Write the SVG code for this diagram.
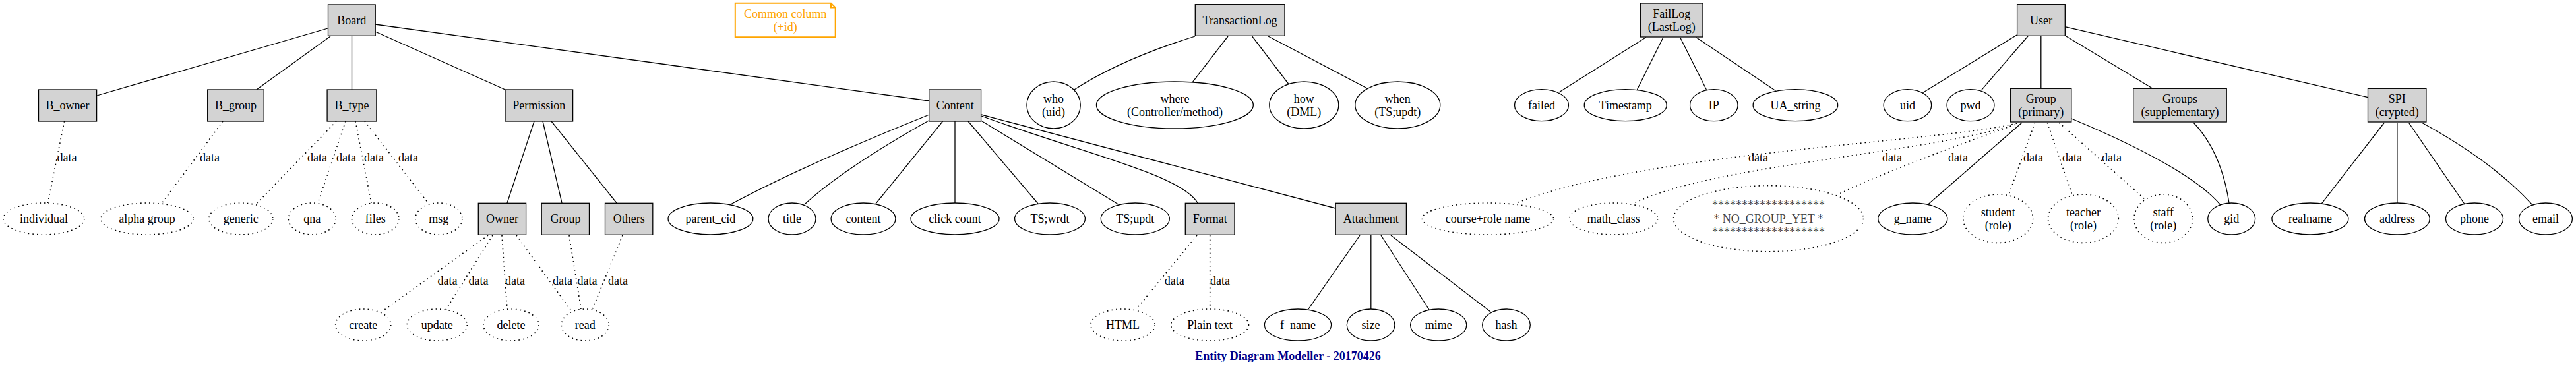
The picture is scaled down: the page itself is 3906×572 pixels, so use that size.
<svg xmlns="http://www.w3.org/2000/svg" width="3906" height="572" viewBox="0 0 3906 572">
<style>
text{font-family:"Liberation Serif","Times New Roman",serif;font-size:18px;fill:#000;text-anchor:middle}
.box{fill:#d3d3d3;stroke:#000;stroke-width:1.3}
.att{fill:#fff;stroke:#000;stroke-width:1.3}
.dat{fill:#fff;stroke:#000;stroke-width:1.6;stroke-dasharray:1.6,5}
.e{fill:none;stroke:#000;stroke-width:1.3}
.d{fill:none;stroke:#000;stroke-width:1.6;stroke-dasharray:1.6,5}
.lbl{text-anchor:start}
.gray{fill:#444}
.title{font-weight:bold;fill:#00008b}
</style>
<rect width="3906" height="572" fill="#fff"/>
<g id="connectors">
<path class="e" d="M497,43 L147,145"/>
<path class="e" d="M501,55 L389,136"/>
<path class="e" d="M533.5,54 L533.5,136"/>
<path class="e" d="M569,48 L766,136"/>
<path class="e" d="M569,37 L1409,153"/>
<path class="d" d="M97.6,184 L72.5,308"/>
<path class="d" d="M338,184 L245,309"/>
<path class="d" d="M510,184 L390,308"/>
<path class="d" d="M524,184 L482,308"/>
<path class="d" d="M539,184 L563,308"/>
<path class="d" d="M553,184 L650,309"/>
<path class="e" d="M810,184 L769,308"/>
<path class="e" d="M823,184 L852,308"/>
<path class="e" d="M836,184 L935,308"/>
<path class="d" d="M740,357 L583,470"/>
<path class="d" d="M747,357 L676,470"/>
<path class="d" d="M761,357 L769,469"/>
<path class="d" d="M783,357 L865,470"/>
<path class="d" d="M863,357 L881,469"/>
<path class="d" d="M944,357 L898,470"/>
<path class="e" d="M1409,174 Q1220,250 1108,310"/>
<path class="e" d="M1410,182 Q1280,255 1220,310"/>
<path class="e" d="M1429.5,184 L1328,309"/>
<path class="e" d="M1448,184 L1448,308"/>
<path class="e" d="M1468,184 L1574,309"/>
<path class="e" d="M1487.6,183 L1695.6,310"/>
<path class="e" d="M1488,176 C1650,235 1790,265 1816,308"/>
<path class="e" d="M1488,174 L2025,316"/>
<path class="d" d="M1815,357 L1723,469"/>
<path class="d" d="M1834.7,357 L1834.7,469"/>
<path class="e" d="M2062,357 L1984,469"/>
<path class="e" d="M2078.8,357 L2078.8,469"/>
<path class="e" d="M2094,357 L2167,470"/>
<path class="e" d="M2109,357 L2260,473"/>
<path class="e" d="M1812,55 Q1700,90 1629,136"/>
<path class="e" d="M1862,55 L1808.5,124.3"/>
<path class="e" d="M1898.6,55 L1955,129"/>
<path class="e" d="M1923,55 L2073.4,134.3"/>
<path class="e" d="M2496,56.5 L2364,140"/>
<path class="e" d="M2522,56.5 L2482.4,136"/>
<path class="e" d="M2547.5,56.5 L2587.4,136"/>
<path class="e" d="M2571.6,56.5 L2692.4,137.7"/>
<path class="e" d="M3058.6,52.7 L2915.4,140.7"/>
<path class="e" d="M3075.2,54.5 L3004.6,136.7"/>
<path class="e" d="M3094.8,54.5 L3094.8,134.3"/>
<path class="e" d="M3131.3,54 L3264,134.3"/>
<path class="e" d="M3131.3,40.7 L3590.5,147.7"/>
<path class="e" d="M3066,186 L2923.7,310"/>
<path class="e" d="M3141,180 Q3320,255 3367,311"/>
<path class="d" d="M3058,187 C2950,215 2500,230 2302,307"/>
<path class="d" d="M3049,191 C2900,235 2600,250 2478,308"/>
<path class="d" d="M3056,189 Q2870,255 2787,295"/>
<path class="d" d="M3085.6,186 L3046,295"/>
<path class="d" d="M3104.3,186 L3141.7,295"/>
<path class="d" d="M3122,186 L3252,302"/>
<path class="e" d="M3326,186 Q3368,230 3380,308"/>
<path class="e" d="M3615.4,186 L3520,309.3"/>
<path class="e" d="M3634.9,186 L3634.9,308"/>
<path class="e" d="M3652.3,186 L3736.6,309"/>
<path class="e" d="M3672,186 Q3780,245 3840,311"/>
<text class="lbl" x="86.4" y="245">data</text>
<text class="lbl" x="303" y="245">data</text>
<text class="lbl" x="466" y="245">data</text>
<text class="lbl" x="510" y="245">data</text>
<text class="lbl" x="552" y="245">data</text>
<text class="lbl" x="604" y="245">data</text>
<text class="lbl" x="663.5" y="431.7">data</text>
<text class="lbl" x="710.4" y="431.7">data</text>
<text class="lbl" x="766" y="431.7">data</text>
<text class="lbl" x="838" y="431.7">data</text>
<text class="lbl" x="875.6" y="431.7">data</text>
<text class="lbl" x="922" y="431.7">data</text>
<text class="lbl" x="1765.8" y="431.7">data</text>
<text class="lbl" x="1835" y="431.7">data</text>
<text class="lbl" x="2651" y="244.7">data</text>
<text class="lbl" x="2854" y="244.7">data</text>
<text class="lbl" x="2954" y="244.7">data</text>
<text class="lbl" x="3068" y="244.7">data</text>
<text class="lbl" x="3127" y="244.7">data</text>
<text class="lbl" x="3187" y="244.7">data</text>
</g>
<g id="Board"><rect class="box" x="497.5" y="7" width="71.7" height="47.3"/><text x="533.3" y="36.7">Board</text></g>
<g id="B_owner"><rect class="box" x="58.5" y="136" width="88.1" height="48"/><text x="102.5" y="166">B_owner</text></g>
<g id="B_group"><rect class="box" x="314.7" y="136" width="85.5" height="48"/><text x="357.5" y="166">B_group</text></g>
<g id="B_type"><rect class="box" x="496.1" y="136" width="74.8" height="48"/><text x="533.5" y="166">B_type</text></g>
<g id="Permission"><rect class="box" x="766" y="136" width="102.6" height="48"/><text x="817.3" y="166">Permission</text></g>
<g id="Content"><rect class="box" x="1408.7" y="136" width="78.9" height="48"/><text x="1448.2" y="166">Content</text></g>
<g id="Owner"><rect class="box" x="725.3" y="308.3" width="72.3" height="48"/><text x="761.5" y="338.3">Owner</text></g>
<g id="Group"><rect class="box" x="821.2" y="308.3" width="72.3" height="48"/><text x="857.4" y="338.3">Group</text></g>
<g id="Others"><rect class="box" x="917.5" y="308.3" width="72.3" height="48"/><text x="953.7" y="338.3">Others</text></g>
<g id="Format"><rect class="box" x="1797.3" y="308.3" width="74.7" height="48"/><text x="1834.7" y="338.3">Format</text></g>
<g id="Attachment"><rect class="box" x="2025.2" y="308.3" width="107.2" height="48"/><text x="2078.8" y="338.3">Attachment</text></g>
<g id="TransactionLog"><rect class="box" x="1812.3" y="6.7" width="135.7" height="47.6"/><text x="1880.2" y="36.7">TransactionLog</text></g>
<g id="FailLog"><rect class="box" x="2487.3" y="5" width="94.7" height="51"/><text x="2534.7" y="26.7">FailLog</text><text x="2534.7" y="47">(LastLog)</text></g>
<g id="User"><rect class="box" x="3058.6" y="6.7" width="72.7" height="47.6"/><text x="3095" y="36.7">User</text></g>
<g id="GroupPrimary"><rect class="box" x="3048.7" y="134.3" width="92.1" height="50.7"/><text x="3094.8" y="155.7">Group</text><text x="3094.8" y="176">(primary)</text></g>
<g id="GroupsSupplementary"><rect class="box" x="3234.7" y="134.3" width="141.5" height="50.7"/><text x="3305.5" y="155.7">Groups</text><text x="3305.5" y="176">(supplementary)</text></g>
<g id="SPI"><rect class="box" x="3590.5" y="134.3" width="88.4" height="50.7"/><text x="3634.7" y="155.7">SPI</text><text x="3634.7" y="176">(crypted)</text></g>
<g id="CommonColumn"><path d="M1114.8,4.7 L1260,4.7 L1266.7,11.4 L1266.7,56.3 L1114.8,56.3 Z M1260,4.7 L1260,11.4 L1266.7,11.4" fill="#fff" stroke="#ffa500" stroke-width="2"/><text x="1190.7" y="26.7" style="fill:#ffa500">Common column</text><text x="1190.7" y="47" style="fill:#ffa500">(+id)</text></g>
<g id="individual"><ellipse class="dat" cx="66.4" cy="332" rx="61.4" ry="24"/><text x="66.4" y="338">individual</text></g>
<g id="alphagroup"><ellipse class="dat" cx="223" cy="332" rx="70" ry="24"/><text x="223" y="338">alpha group</text></g>
<g id="generic"><ellipse class="dat" cx="365.3" cy="332" rx="48.5" ry="24"/><text x="365.3" y="338">generic</text></g>
<g id="qna"><ellipse class="dat" cx="473.3" cy="332" rx="36" ry="24"/><text x="473.3" y="338">qna</text></g>
<g id="files"><ellipse class="dat" cx="569.2" cy="332" rx="35.7" ry="24"/><text x="569.2" y="338">files</text></g>
<g id="msg"><ellipse class="dat" cx="665.3" cy="332" rx="35.5" ry="24"/><text x="665.3" y="338">msg</text></g>
<g id="create"><ellipse class="dat" cx="550.7" cy="493" rx="42" ry="24"/><text x="550.7" y="499">create</text></g>
<g id="update"><ellipse class="dat" cx="662.8" cy="493" rx="45.5" ry="24"/><text x="662.8" y="499">update</text></g>
<g id="delete"><ellipse class="dat" cx="775" cy="493" rx="42" ry="24"/><text x="775" y="499">delete</text></g>
<g id="read"><ellipse class="dat" cx="887.3" cy="493" rx="36" ry="24"/><text x="887.3" y="499">read</text></g>
<g id="HTML"><ellipse class="dat" cx="1702.6" cy="493" rx="48.6" ry="24"/><text x="1702.6" y="499">HTML</text></g>
<g id="PlainText"><ellipse class="dat" cx="1834.5" cy="493" rx="59" ry="24"/><text x="1834.5" y="499">Plain text</text></g>
<g id="courseRoleName"><ellipse class="dat" cx="2256" cy="332" rx="99.6" ry="24"/><text x="2256" y="338">course+role name</text></g>
<g id="math_class"><ellipse class="dat" cx="2446.7" cy="332" rx="66.8" ry="24"/><text x="2446.7" y="338">math_class</text></g>
<g id="NO_GROUP_YET"><ellipse class="dat" cx="2681.5" cy="331.7" rx="143.9" ry="50"/><text class="gray" x="2681.5" y="317.3">*******************</text><text class="gray" x="2681.5" y="337.7">* NO_GROUP_YET *</text><text class="gray" x="2681.5" y="358">*******************</text></g>
<g id="student"><ellipse class="dat" cx="3029.7" cy="331.7" rx="53" ry="36.7"/><text x="3029.7" y="327.7">student</text><text x="3029.7" y="347.7">(role)</text></g>
<g id="teacher"><ellipse class="dat" cx="3158.9" cy="331.7" rx="53.4" ry="36.7"/><text x="3158.9" y="327.7">teacher</text><text x="3158.9" y="347.7">(role)</text></g>
<g id="staff"><ellipse class="dat" cx="3280.3" cy="331.7" rx="44.4" ry="36.7"/><text x="3280.3" y="327.7">staff</text><text x="3280.3" y="347.7">(role)</text></g>
<g id="parent_cid"><ellipse class="att" cx="1077.4" cy="332" rx="64.4" ry="24"/><text x="1077.4" y="338">parent_cid</text></g>
<g id="title"><ellipse class="att" cx="1201" cy="332" rx="36" ry="24"/><text x="1201" y="338">title</text></g>
<g id="content"><ellipse class="att" cx="1309" cy="332" rx="49" ry="24"/><text x="1309" y="338">content</text></g>
<g id="clickcount"><ellipse class="att" cx="1448" cy="332" rx="67" ry="24"/><text x="1448" y="338">click count</text></g>
<g id="TSwrdt"><ellipse class="att" cx="1592" cy="332" rx="53.4" ry="24"/><text x="1592" y="338">TS;wrdt</text></g>
<g id="TSupdt"><ellipse class="att" cx="1721.3" cy="332" rx="52" ry="24"/><text x="1721.3" y="338">TS;updt</text></g>
<g id="f_name"><ellipse class="att" cx="1968" cy="493" rx="50.6" ry="24"/><text x="1968" y="499">f_name</text></g>
<g id="size"><ellipse class="att" cx="2078.6" cy="493" rx="36.3" ry="24"/><text x="2078.6" y="499">size</text></g>
<g id="mime"><ellipse class="att" cx="2181.2" cy="493" rx="42.6" ry="24"/><text x="2181.2" y="499">mime</text></g>
<g id="hash"><ellipse class="att" cx="2284" cy="493" rx="36.3" ry="24"/><text x="2284" y="499">hash</text></g>
<g id="who"><ellipse class="att" cx="1597.6" cy="159.5" rx="40.7" ry="35.5"/><text x="1597.6" y="155.7">who</text><text x="1597.6" y="176">(uid)</text></g>
<g id="where"><ellipse class="att" cx="1781.4" cy="159.5" rx="119" ry="35.5"/><text x="1781.4" y="155.7">where</text><text x="1781.4" y="176">(Controller/method)</text></g>
<g id="how"><ellipse class="att" cx="1977.3" cy="159.5" rx="52.5" ry="35.5"/><text x="1977.3" y="155.7">how</text><text x="1977.3" y="176">(DML)</text></g>
<g id="when"><ellipse class="att" cx="2119.3" cy="159.5" rx="64.5" ry="35.5"/><text x="2119.3" y="155.7">when</text><text x="2119.3" y="176">(TS;updt)</text></g>
<g id="failed"><ellipse class="att" cx="2337.5" cy="159.7" rx="41" ry="24"/><text x="2337.5" y="165.7">failed</text></g>
<g id="Timestamp"><ellipse class="att" cx="2464.7" cy="159.7" rx="62.5" ry="24"/><text x="2464.7" y="165.7">Timestamp</text></g>
<g id="IP"><ellipse class="att" cx="2598.8" cy="159.7" rx="36.3" ry="24"/><text x="2598.8" y="165.7">IP</text></g>
<g id="UA_string"><ellipse class="att" cx="2722.4" cy="159.7" rx="64.3" ry="24"/><text x="2722.4" y="165.7">UA_string</text></g>
<g id="uid"><ellipse class="att" cx="2892.4" cy="159.7" rx="36.3" ry="24"/><text x="2892.4" y="165.7">uid</text></g>
<g id="pwd"><ellipse class="att" cx="2988" cy="159.7" rx="36" ry="24"/><text x="2988" y="165.7">pwd</text></g>
<g id="g_name"><ellipse class="att" cx="2900.3" cy="332" rx="52.5" ry="24"/><text x="2900.3" y="338">g_name</text></g>
<g id="gid"><ellipse class="att" cx="3383.7" cy="332" rx="36" ry="24"/><text x="3383.7" y="338">gid</text></g>
<g id="realname"><ellipse class="att" cx="3502.9" cy="332" rx="58" ry="24"/><text x="3502.9" y="338">realname</text></g>
<g id="address"><ellipse class="att" cx="3634.9" cy="332" rx="49.4" ry="24"/><text x="3634.9" y="338">address</text></g>
<g id="phone"><ellipse class="att" cx="3752" cy="332" rx="43.6" ry="24"/><text x="3752" y="338">phone</text></g>
<g id="email"><ellipse class="att" cx="3860" cy="332" rx="40.5" ry="24"/><text x="3860" y="338">email</text></g>
<text class="title" x="1953" y="546">Entity Diagram Modeller - 20170426</text>
</svg>
